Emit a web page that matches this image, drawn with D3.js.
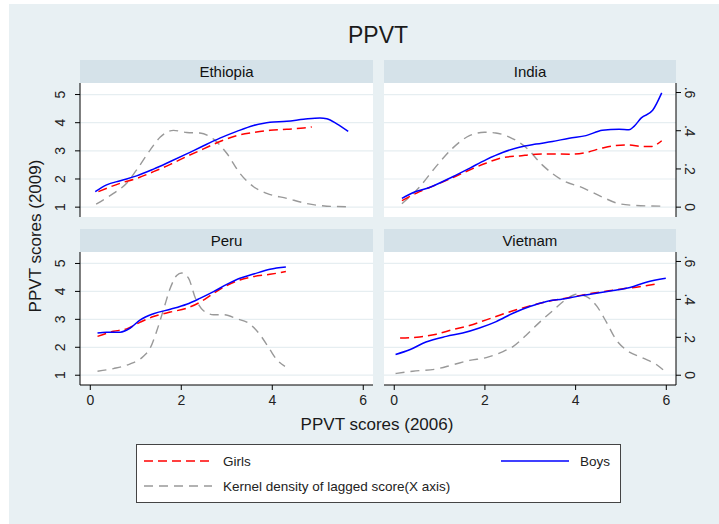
<!DOCTYPE html>
<html><head><meta charset="utf-8">
<script src="https://cdn.jsdelivr.net/npm/d3@7"></script>
<style>body{margin:0;background:#fff}svg{display:block;font-family:"Liberation Sans",Arial,sans-serif}</style>
</head><body><svg id="c" width="719" height="524"></svg>
<script>
const countries = ["Ethiopia","India","Peru","Vietnam"];
const xTicks = [0,2,4,6];
const yTicks = [1,2,3,4,5];
const densTicks = [0,0.2,0.4,0.6];
const densTickLabels = ["0",".2",".4",".6"];

const ethiopiaBoys = [[0.12,1.55],[0.37,1.79],[0.67,1.94],[1.03,2.11],[1.40,2.35],[1.77,2.62],[2.13,2.89],[2.50,3.18],[2.86,3.45],[3.23,3.69],[3.60,3.90],[3.96,4.02],[4.33,4.05],[4.70,4.12],[5.06,4.17],[5.21,4.14],[5.43,3.96],[5.68,3.69]];
const ethiopiaGirls = [[0.19,1.55],[0.67,1.85],[1.03,2.02],[1.40,2.26],[1.77,2.52],[2.13,2.80],[2.50,3.07],[2.86,3.33],[3.23,3.54],[3.60,3.65],[3.96,3.73],[4.33,3.77],[4.70,3.81],[4.88,3.85]];
const ethiopiaDensity = [[0.14,0.016],[0.52,0.072],[0.81,0.125],[1.03,0.195],[1.33,0.30],[1.55,0.367],[1.84,0.402],[2.13,0.391],[2.42,0.388],[2.72,0.356],[3.01,0.282],[3.30,0.177],[3.60,0.107],[3.89,0.072],[4.33,0.046],[4.77,0.019],[5.21,0.005],[5.68,0.002]];

const indiaBoys = [[0.18,1.31],[0.42,1.51],[0.79,1.70],[1.30,2.08],[1.67,2.38],[2.03,2.68],[2.40,2.94],[2.77,3.13],[3.14,3.24],[3.50,3.33],[3.87,3.45],[4.24,3.54],[4.60,3.73],[4.97,3.77],[5.19,3.75],[5.30,3.87],[5.46,4.17],[5.71,4.44],[5.91,5.06]];
const indiaGirls = [[0.18,1.23],[0.57,1.55],[0.93,1.79],[1.30,2.05],[1.67,2.32],[2.03,2.56],[2.40,2.76],[2.77,2.82],[3.14,2.88],[3.50,2.89],[3.87,2.88],[4.24,2.94],[4.60,3.10],[4.90,3.19],[5.19,3.21],[5.48,3.15],[5.67,3.15],[5.91,3.36]];
const indiaDensity = [[0.18,0.018],[0.57,0.106],[0.93,0.212],[1.30,0.309],[1.67,0.374],[2.00,0.392],[2.25,0.388],[2.55,0.367],[2.91,0.314],[3.28,0.220],[3.72,0.141],[4.16,0.102],[4.60,0.053],[4.97,0.018],[5.34,0.009],[5.91,0.005]];

const peruBoys = [[0.17,2.51],[0.37,2.54],[0.67,2.54],[0.89,2.69],[1.11,2.98],[1.40,3.20],[1.77,3.36],[2.13,3.54],[2.42,3.75],[2.72,3.99],[3.01,4.25],[3.30,4.47],[3.60,4.62],[3.96,4.79],[4.31,4.87]];
const peruGirls = [[0.17,2.39],[0.52,2.57],[0.81,2.66],[1.11,2.90],[1.40,3.10],[1.77,3.26],[2.13,3.40],[2.42,3.61],[2.72,3.93],[3.01,4.21],[3.30,4.41],[3.60,4.53],[3.96,4.61],[4.31,4.71]];
const peruDensity = [[0.17,0.021],[0.52,0.035],[0.89,0.060],[1.18,0.100],[1.33,0.144],[1.47,0.232],[1.62,0.346],[1.77,0.460],[1.91,0.526],[2.02,0.539],[2.17,0.512],[2.32,0.407],[2.50,0.340],[2.72,0.319],[2.94,0.319],[3.23,0.298],[3.52,0.270],[3.74,0.214],[3.96,0.135],[4.11,0.082],[4.29,0.047]];

const vietnamBoys = [[0.04,1.74],[0.35,1.91],[0.71,2.19],[1.16,2.39],[1.52,2.51],[1.89,2.69],[2.26,2.92],[2.63,3.22],[3.00,3.46],[3.37,3.64],[3.73,3.73],[4.10,3.84],[4.47,3.93],[4.84,4.03],[5.21,4.14],[5.57,4.33],[6.00,4.47]];
const vietnamGirls = [[0.14,2.33],[0.57,2.37],[0.94,2.47],[1.30,2.63],[1.67,2.78],[2.04,2.98],[2.41,3.19],[2.78,3.38],[3.14,3.54],[3.51,3.68],[3.88,3.78],[4.25,3.90],[4.62,3.99],[4.99,4.08],[5.35,4.15],[5.80,4.27]];
const vietnamDensity = [[0.04,0.009],[0.42,0.021],[0.94,0.033],[1.30,0.055],[1.67,0.078],[2.04,0.093],[2.41,0.125],[2.63,0.151],[2.92,0.211],[3.22,0.280],[3.51,0.341],[3.81,0.401],[4.03,0.427],[4.25,0.415],[4.47,0.367],[4.69,0.280],[4.91,0.185],[5.13,0.133],[5.50,0.090],[5.80,0.055],[5.94,0.029]];

const panelData = {
  Ethiopia:{boys:ethiopiaBoys,girls:ethiopiaGirls,dens:ethiopiaDensity},
  India:{boys:indiaBoys,girls:indiaGirls,dens:indiaDensity},
  Peru:{boys:peruBoys,girls:peruGirls,dens:peruDensity},
  Vietnam:{boys:vietnamBoys,girls:vietnamGirls,dens:vietnamDensity}
};

const BG="#e8f0f3", STRIP="#d5e2e9", GRID="#e6eef1";
const svg = d3.select("#c");
svg.append("rect").attr("x",9).attr("y",4).attr("width",710).attr("height",520).attr("fill",BG);

svg.append("text").attr("x",378).attr("y",43).attr("text-anchor","middle").attr("font-size",23).attr("fill","#1a1a1a").text("PPVT");

const cols = [{x0:80,x1:373},{x0:384,x1:676}];
const rows = [{s0:60,y0:83,y1:217},{s0:229,y0:252,y1:385}];
const xDom=[-0.215,6.225], yDom=[0.65,5.41];
const densFactor = 6.786;
const dDom=[(yDom[0]-1)/densFactor,(yDom[1]-1)/densFactor];

countries.forEach((c,i)=>{
  const col=cols[i%2], row=rows[Math.floor(i/2)];
  const x=d3.scaleLinear().domain(xDom).range([col.x0,col.x1]);
  const y=d3.scaleLinear().domain(yDom).range([row.y1,row.y0]);
  const yd=d3.scaleLinear().domain(dDom).range([row.y1,row.y0]);
  const g=svg.append("g");
  g.append("rect").attr("x",col.x0).attr("y",row.s0).attr("width",col.x1-col.x0).attr("height",row.y0-row.s0).attr("fill",STRIP);
  g.append("text").attr("x",(col.x0+col.x1)/2).attr("y",row.s0+17).attr("text-anchor","middle").attr("font-size",15).attr("fill","#111").text(c);
  g.append("rect").attr("x",col.x0).attr("y",row.y0).attr("width",col.x1-col.x0).attr("height",row.y1-row.y0).attr("fill","#fff");
  g.selectAll(".grid").data(yTicks).join("line").attr("x1",col.x0).attr("x2",col.x1)
    .attr("y1",d=>y(d)).attr("y2",d=>y(d)).attr("stroke",GRID).attr("stroke-width",1.2);
  const line=d3.line().x(d=>x(d[0])).y(d=>y(d[1])).curve(d3.curveMonotoneX);
  const dline=d3.line().x(d=>x(d[0])).y(d=>yd(d[1])).curve(d3.curveMonotoneX);
  const pd=panelData[c];
  g.append("path").attr("d",dline(pd.dens)).attr("fill","none").attr("stroke","#999").attr("stroke-width",1.4).attr("stroke-dasharray","9,6");
  g.append("path").attr("d",line(pd.girls)).attr("fill","none").attr("stroke","#ff0000").attr("stroke-width",1.5).attr("stroke-dasharray","9,5");
  g.append("path").attr("d",line(pd.boys)).attr("fill","none").attr("stroke","#0000ff").attr("stroke-width",1.5);
  if(i%2===0){
    const ax=g.append("g").attr("transform",`translate(${col.x0},0)`).call(d3.axisLeft(y).tickValues(yTicks).tickSize(5).tickFormat(d3.format("d")));
    ax.select(".domain").attr("d",`M0,${row.y0}V${row.y1}`).attr("stroke","#000");
    ax.selectAll(".tick").attr("transform",null);
    ax.selectAll(".tick line").attr("y1",d=>y(d)).attr("y2",d=>y(d)).attr("x2",-5).attr("stroke","#000");
    ax.selectAll("text").attr("font-size",14).attr("fill","#222").attr("x",-20).attr("y",d=>y(d)).attr("dy","0.35em").attr("text-anchor","middle")
      .attr("transform",d=>`rotate(-90,-20,${y(d)})`);
  } else {
    const ax=g.append("g").attr("transform",`translate(${col.x1},0)`).call(d3.axisRight(yd).tickValues(densTicks).tickSize(5).tickFormat((d,k)=>densTickLabels[k]));
    ax.select(".domain").attr("d",`M0,${row.y0}V${row.y1}`).attr("stroke","#000");
    ax.selectAll(".tick").attr("transform",null);
    ax.selectAll(".tick line").attr("y1",d=>yd(d)).attr("y2",d=>yd(d)).attr("x2",5).attr("stroke","#000");
    ax.selectAll("text").attr("font-size",14).attr("fill","#222").attr("x",14).attr("y",d=>yd(d)).attr("dy","0.35em").attr("text-anchor","middle")
      .attr("transform",d=>`rotate(90,14,${yd(d)})`);
  }
  if(Math.floor(i/2)===1){
    const ax=g.append("g").attr("transform",`translate(0,${row.y1})`).call(d3.axisBottom(x).tickValues(xTicks).tickSize(5).tickPadding(5).tickFormat(d3.format("d")));
    ax.select(".domain").attr("d",`M${col.x0},0H${col.x1}`).attr("stroke","#000");
    ax.selectAll(".tick line").attr("stroke","#000");
    ax.selectAll("text").attr("font-size",14).attr("fill","#222");
  }
});

svg.append("text").attr("x",377).attr("y",430).attr("text-anchor","middle").attr("font-size",17).attr("fill","#1a1a1a").text("PPVT scores (2006)");
svg.append("text").attr("transform","translate(41,236) rotate(-90)").attr("text-anchor","middle").attr("font-size",17).attr("fill","#1a1a1a").text("PPVT scores (2009)");

const lg=svg.append("g");
lg.append("rect").attr("x",136.5).attr("y",444.5).attr("width",484).attr("height",58).attr("fill","#fff").attr("stroke","#444").attr("stroke-width",1);
const legendItems=[
  {label:"Girls",color:"#ff0000",dash:"9,5",x:144,y:461},
  {label:"Boys",color:"#0000ff",dash:null,x:501,y:461},
  {label:"Kernel density of lagged score(X axis)",color:"#999",dash:"9,6",x:144,y:486}
];
legendItems.forEach(it=>{
  const l=lg.append("line").attr("x1",it.x).attr("x2",it.x+68).attr("y1",it.y).attr("y2",it.y).attr("stroke",it.color).attr("stroke-width",1.5);
  if(it.dash) l.attr("stroke-dasharray",it.dash);
  lg.append("text").attr("x",it.x+79).attr("y",it.y+5).attr("font-size",13.5).attr("fill","#222").text(it.label);
});
</script></body></html>
